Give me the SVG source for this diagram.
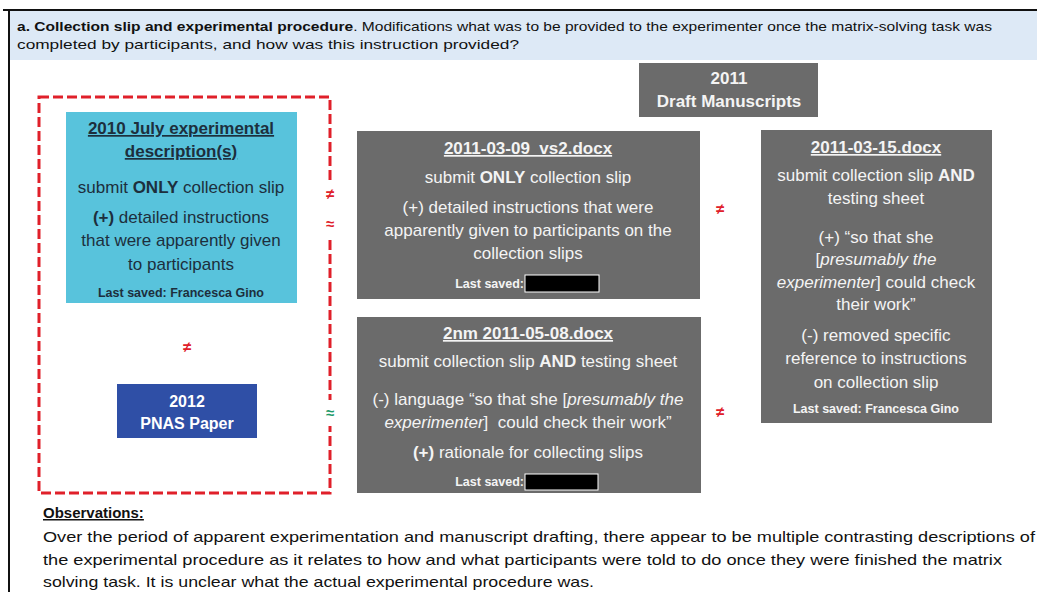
<svg xmlns="http://www.w3.org/2000/svg" width="1037" height="592" viewBox="0 0 1037 592">
<style>
text{font-family:"Liberation Sans",Arial,sans-serif}
.gbox{fill:#6b6b6b}
.gt{fill:#f4f4f4;font-size:17px;text-anchor:middle}
.bt{fill:#1d2f3d;font-size:17px;text-anchor:middle}
.b{font-weight:bold}
.u{text-decoration:underline}
.i{font-style:italic}
.small{font-size:12.5px;font-weight:bold}
.neq{fill:#e0202a;font-size:15px;font-weight:bold;text-anchor:middle}
.apx{fill:#1f9a6a;font-size:15px;font-weight:bold;text-anchor:middle}
.redact{fill:#000;stroke:#fff;stroke-width:1}
.obs{fill:#111;font-size:15px}
</style>
<rect x="0" y="0" width="1037" height="592" fill="#fff"/>
<g id="header">
<rect x="9" y="10" width="1030" height="50" fill="#dde9f6"/>
<line x1="3" y1="10" x2="1037" y2="10" stroke="#111" stroke-width="2"/>
<line x1="9" y1="10" x2="9" y2="592" stroke="#111" stroke-width="2"/>
<text x="17" y="31" font-size="13.5" fill="#111" textLength="975" lengthAdjust="spacingAndGlyphs"><tspan font-weight="bold">a. Collection slip and experimental procedure</tspan>. Modifications what was to be provided to the experimenter once the matrix-solving task was</text>
<text x="17" y="49" font-size="13.5" fill="#111" textLength="502" lengthAdjust="spacingAndGlyphs">completed by participants, and how was this instruction provided?</text>
</g>
<g id="group-2010-2012">
<rect x="39" y="97" width="291" height="396" fill="none" stroke="#e0202a" stroke-width="3" stroke-dasharray="10,4"/>
</g>
<g id="node-2010">
<rect x="66" y="112" width="231" height="191" fill="#58c3dc"/>
<text class="bt b u" x="181" y="134">2010 July experimental</text>
<text class="bt b u" x="181" y="157">description(s)</text>
<text class="bt" x="181" y="193">submit <tspan class="b">ONLY</tspan> collection slip</text>
<text class="bt" x="181" y="223"><tspan class="b">(+)</tspan> detailed instructions</text>
<text class="bt" x="181" y="246">that were apparently given</text>
<text class="bt" x="181" y="270">to participants</text>
<text class="bt small" x="181" y="297">Last saved: Francesca Gino</text>
</g>
<g id="node-2012">
<rect x="117" y="384" width="140" height="54" fill="#2f4fa6"/>
<text x="187" y="407" fill="#fff" font-size="16" font-weight="bold" text-anchor="middle">2012</text>
<text x="187" y="429" fill="#fff" font-size="16" font-weight="bold" text-anchor="middle">PNAS Paper</text>
</g>
<g id="node-2011-drafts">
<rect class="gbox" x="639" y="63" width="179" height="54"/>
<text class="gt b" x="729" y="84">2011</text>
<text class="gt b" x="729" y="107">Draft Manuscripts</text>
</g>
<g id="node-2011-03-09">
<rect class="gbox" x="357" y="131" width="343" height="168"/>
<text class="gt b u" x="528" y="154" xml:space="preserve">2011-03-09  vs2.docx</text>
<text class="gt" x="528" y="183">submit <tspan class="b">ONLY</tspan> collection slip</text>
<text class="gt" x="528" y="213">(+) detailed instructions that were</text>
<text class="gt" x="528" y="236">apparently given to participants on the</text>
<text class="gt" x="528" y="259">collection slips</text>
<text class="gt small" x="524" y="288" text-anchor="end" style="text-anchor:end">Last saved:</text>
<rect class="redact" x="525" y="275" width="74" height="17"/>
</g>
<g id="node-2nm-2011-05-08">
<rect class="gbox" x="357" y="317" width="344" height="176"/>
<text class="gt b u" x="528" y="339">2nm 2011-05-08.docx</text>
<text class="gt" x="528" y="367">submit collection slip <tspan class="b">AND</tspan> testing sheet</text>
<text class="gt" x="528" y="405">(-) language “so that she [<tspan class="i">presumably the</tspan></text>
<text class="gt" x="528" y="428" xml:space="preserve"><tspan class="i">experimenter</tspan>]  could check their work”</text>
<text class="gt" x="528" y="458"><tspan class="b">(+)</tspan> rationale for collecting slips</text>
<text class="gt small" x="524" y="486" style="text-anchor:end">Last saved:</text>
<rect class="redact" x="525" y="474" width="73" height="16"/>
</g>
<g id="node-2011-03-15">
<rect class="gbox" x="761" y="130" width="231" height="293"/>
<text class="gt b u" x="876" y="153">2011-03-15.docx</text>
<text class="gt" x="876" y="181">submit collection slip <tspan class="b">AND</tspan></text>
<text class="gt" x="876" y="204">testing sheet</text>
<text class="gt" x="876" y="243">(+) “so that she</text>
<text class="gt" x="876" y="265">[<tspan class="i">presumably the</tspan></text>
<text class="gt" x="876" y="288"><tspan class="i">experimenter</tspan>] could check</text>
<text class="gt" x="876" y="310">their work”</text>
<text class="gt" x="876" y="341">(-) removed specific</text>
<text class="gt" x="876" y="364">reference to instructions</text>
<text class="gt" x="876" y="388">on collection slip</text>
<text class="gt small" x="876" y="413">Last saved: Francesca Gino</text>
</g>
<g id="connectors">
<rect x="322" y="180" width="16" height="56" fill="#fff"/>
<rect x="322" y="400" width="16" height="26" fill="#fff"/>
<text class="neq" x="330" y="199">≠</text>
<text class="neq" x="330" y="229">≈</text>
<text class="apx" x="330" y="418">≈</text>
<text class="neq" x="187" y="352">≠</text>
<text class="neq" x="720" y="214">≠</text>
<text class="neq" x="720" y="417">≠</text>
</g>
<g id="observations">
<text class="obs b u" x="43" y="518">Observations:</text>
<text class="obs" x="43" y="542" textLength="992" lengthAdjust="spacingAndGlyphs">Over the period of apparent experimentation and manuscript drafting, there appear to be multiple contrasting descriptions of</text>
<text class="obs" x="43" y="565" textLength="959" lengthAdjust="spacingAndGlyphs">the experimental procedure as it relates to how and what participants were told to do once they were finished the matrix</text>
<text class="obs" x="43" y="587" textLength="551" lengthAdjust="spacingAndGlyphs">solving task. It is unclear what the actual experimental procedure was.</text>
</g>
</svg>
